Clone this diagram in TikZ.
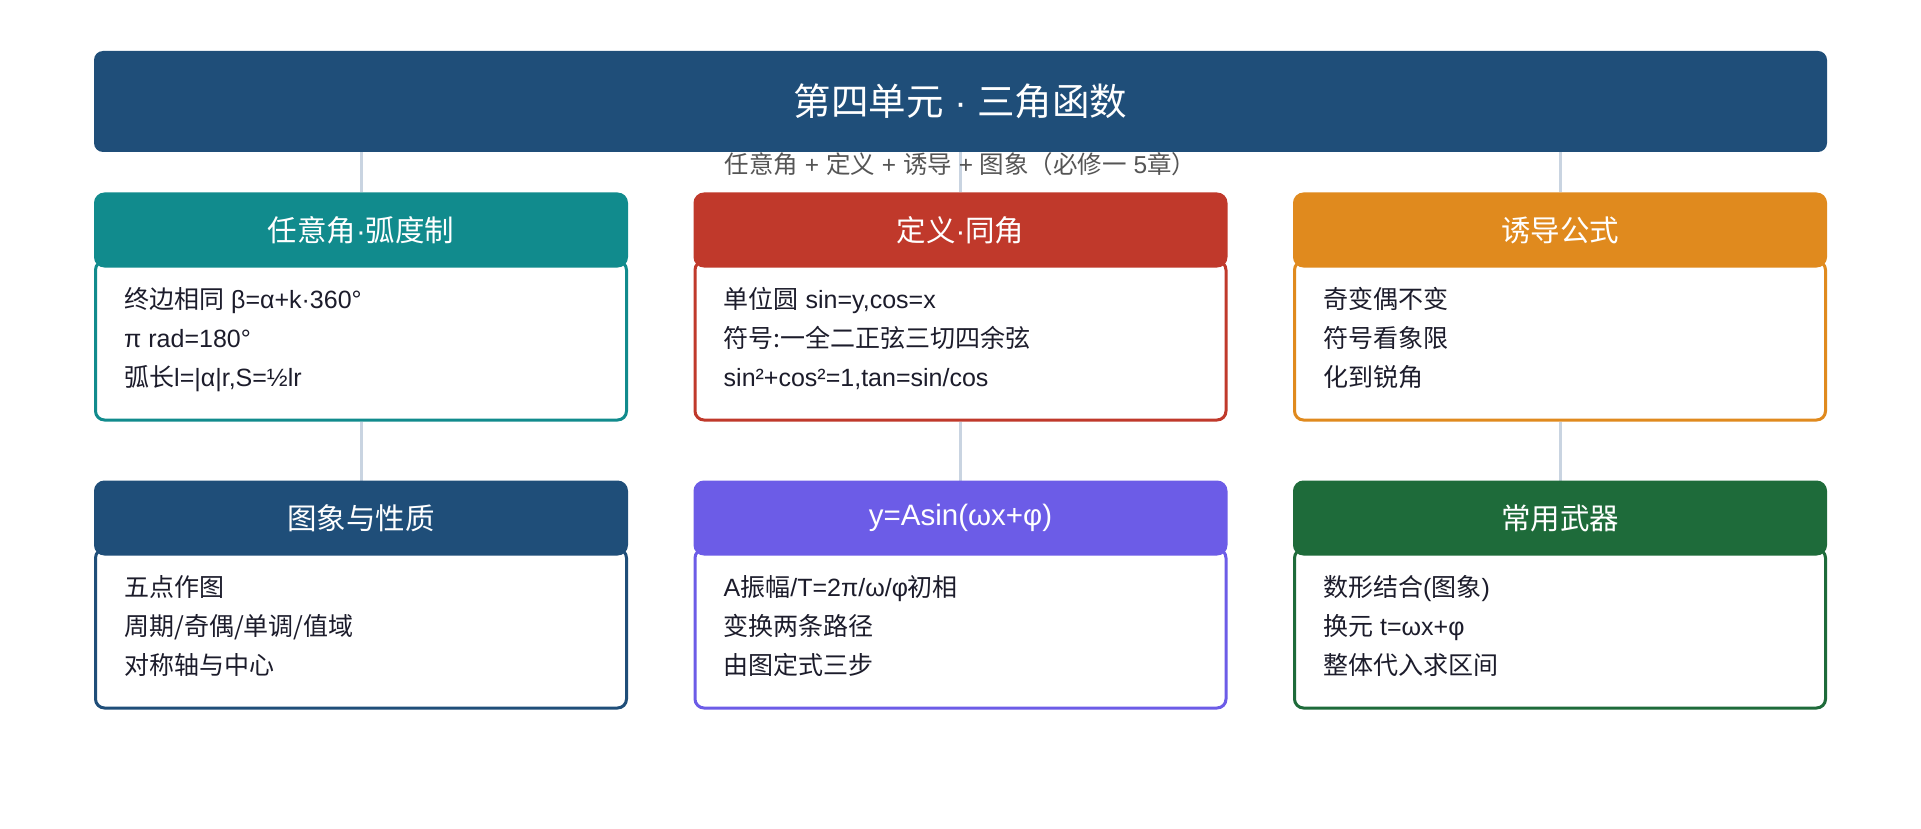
\documentclass[tikz,border=0pt]{standalone}
\usepackage{fontspec}
\usetikzlibrary{backgrounds}
\setmainfont{Liberation Sans}
\newfontfamily\cjk{Noto Sans CJK SC}
\newcommand{\zh}[1]{{\cjk #1}}
\definecolor{topblue}{HTML}{1F4E79}
\definecolor{cardteal}{HTML}{118B8D}
\definecolor{cardred}{HTML}{C0392B}
\definecolor{cardorange}{HTML}{E08A1E}
\definecolor{cardpurple}{HTML}{6C5CE7}
\definecolor{cardgreen}{HTML}{1E6B3A}
\definecolor{linkgray}{HTML}{C9D4E1}
\definecolor{inktext}{HTML}{1C1C2B}
\definecolor{subgray}{HTML}{555555}
\tikzset{
  cardbody/.style={draw=#1, fill=white, line width=3pt, rounded corners=9pt,
    minimum width=531pt, minimum height=159pt, anchor=north, inner sep=0pt},
  cardhead/.style={fill=#1, draw=#1, line width=3pt, rounded corners=9pt,
    text=white, minimum width=531pt, minimum height=72pt, anchor=north,
    inner sep=0pt, font=\fontsize{29.5}{34}\selectfont},
  cardtext/.style={anchor=base west, align=left, inner sep=0pt, text=inktext,
    font=\fontsize{25}{39}\selectfont},
  link/.style={draw=linkgray, line width=3pt}
}
\begin{document}
\begin{tikzpicture}[x=1pt, y=-1pt]
      \useasboundingbox (0,0) rectangle (1921,829);
      \node[fill=topblue, rounded corners=9pt, minimum width=1733pt,
        minimum height=101pt, inner sep=0pt, text=white,
        font=\fontsize{37.5}{44}\selectfont] (title) at (960.5,101.5)
        {\zh{第四单元} · \zh{三角函数}};
      \node[cardbody=cardteal] (b1) at (361,259.5) {};
      \node[cardhead=cardteal] (h1) at (361,192.5) {\zh{任意角}·\zh{弧度制}};
      \node[cardtext] (t1) at (124,386)
        {\zh{终边相同} β=α+k·360°\\π rad=180°\\\zh{弧长}l=|α|r,S=½lr};
      \node[cardbody=cardred] (b2) at (960.5,259.5) {};
      \node[cardhead=cardred] (h2) at (960.5,192.5) {\zh{定义}·\zh{同角}};
      \node[cardtext] (t2) at (723.5,386)
        {\zh{单位圆} sin=y,cos=x\\\zh{符号:一全二正弦三切四余弦}\\sin²+cos²=1,tan=sin/cos};
      \node[cardbody=cardorange] (b3) at (1560,259.5) {};
      \node[cardhead=cardorange] (h3) at (1560,192.5) {\zh{诱导公式}};
      \node[cardtext] (t3) at (1323,386)
        {\zh{奇变偶不变}\\\zh{符号看象限}\\\zh{化到锐角}};
      \node[cardbody=topblue] (b4) at (361,547.5) {};
      \node[cardhead=topblue] (h4) at (361,480.5) {\zh{图象与性质}};
      \node[cardtext] (t4) at (124,674)
        {\zh{五点作图}\\\zh{周期/奇偶/单调/值域}\\\zh{对称轴与中心}};
      \node[cardbody=cardpurple] (b5) at (960.5,547.5) {};
      \node[cardhead=cardpurple] (h5) at (960.5,480.5) {y=Asin(ωx+φ)};
      \node[cardtext] (t5) at (723.5,674)
        {A\zh{振幅}/T=2π/ω/φ\zh{初相}\\\zh{变换两条路径}\\\zh{由图定式三步}};
      \node[cardbody=cardgreen] (b6) at (1560,547.5) {};
      \node[cardhead=cardgreen] (h6) at (1560,480.5) {\zh{常用武器}};
      \node[cardtext] (t6) at (1323,674)
        {\zh{数形结合}(\zh{图象})\\\zh{换元} t=ωx+φ\\\zh{整体代入求区间}};
      \begin{scope}[on background layer]
        \fill[white] (0,0) rectangle (1921,829);
        \draw[link] (h1.north |- title.south) -- (h1.north);
        \draw[link] (h2.north |- title.south) -- (h2.north);
        \draw[link] (h3.north |- title.south) -- (h3.north);
        \draw[link] (b1.south) -- (h4.north);
        \draw[link] (b2.south) -- (h5.north);
        \draw[link] (b3.south) -- (h6.north);
      \end{scope}
      \node[text=subgray, font=\fontsize{24.5}{28}\selectfont] (sub) at (960.5,164)
        {\zh{任意角} + \zh{定义} + \zh{诱导} + \zh{图象（必修一} 5\zh{章）}};
    \end{tikzpicture}
\end{document}
